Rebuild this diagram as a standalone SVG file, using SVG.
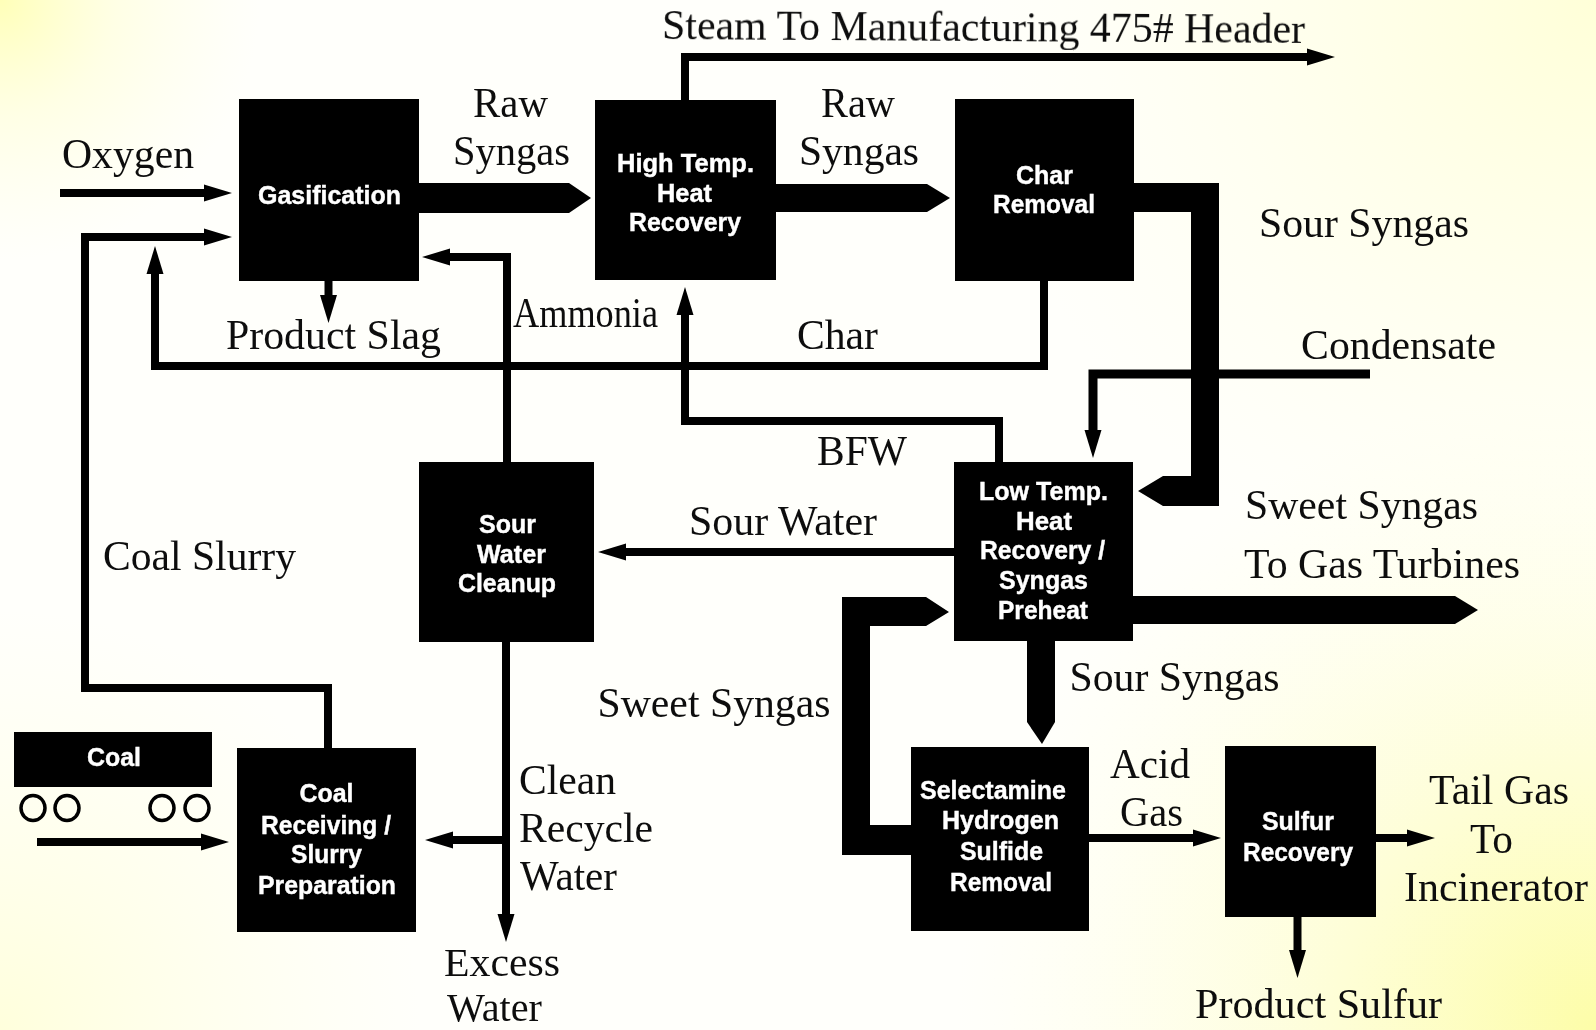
<svg xmlns="http://www.w3.org/2000/svg" width="1596" height="1030" viewBox="0 0 1596 1030">
<style>
.box{fill:#020202}
.n{font-family:"Liberation Sans",Arial,sans-serif;font-weight:700;font-size:25px;fill:#fff;stroke:#fff;stroke-width:.4}
.l{font-family:"Liberation Serif","Times New Roman",serif;font-size:42px;fill:#111}
.s{font-size:40px}
.c{fill:none;stroke:#050505;stroke-width:8;stroke-linejoin:miter;stroke-linecap:butt}
.t{fill:#050505;stroke:none}
.w{fill:none;stroke:#050505;stroke-width:3.5}
</style>
<defs>
<radialGradient id="tl" gradientUnits="userSpaceOnUse" cx="0" cy="0" r="260"><stop offset="0" stop-color="#ffffb8"/><stop offset=".45" stop-color="#ffffdc" stop-opacity=".7"/><stop offset="1" stop-color="#ffffe8" stop-opacity="0"/></radialGradient>
<radialGradient id="tr" gradientUnits="userSpaceOnUse" cx="1596" cy="0" r="620"><stop offset="0" stop-color="#ffffd8"/><stop offset="1" stop-color="#ffffe8" stop-opacity="0"/></radialGradient>
<radialGradient id="br" gradientUnits="userSpaceOnUse" cx="1596" cy="1030" r="640"><stop offset="0" stop-color="#fdfda8"/><stop offset=".5" stop-color="#fefed8" stop-opacity=".8"/><stop offset="1" stop-color="#ffffe8" stop-opacity="0"/></radialGradient>
<radialGradient id="bl" gradientUnits="userSpaceOnUse" cx="0" cy="1030" r="420"><stop offset="0" stop-color="#ffffdc"/><stop offset="1" stop-color="#ffffe8" stop-opacity="0"/></radialGradient>
<filter id="s" x="0" y="0" width="1" height="1"><feGaussianBlur stdDeviation=".55"/></filter>
<marker id="a" markerUnits="userSpaceOnUse" markerWidth="30" markerHeight="18" refX="0" refY="9" orient="auto" overflow="visible">
<path d="M0 .5L28 9L0 17.5Z" fill="#050505"/>
</marker>
</defs>
<rect width="1596" height="1030" fill="#fffffb"/>
<rect width="1596" height="1030" fill="url(#tr)"/>
<rect width="1596" height="1030" fill="url(#bl)"/>
<rect width="1596" height="1030" fill="url(#tl)"/>
<rect width="1596" height="1030" fill="url(#br)"/>
<g filter="url(#s)">
<g id="connectors">
<path class="c" d="M60 193H204" marker-end="url(#a)"/>
<path class="c" d="M328 748V688H85V237H204" marker-end="url(#a)"/>
<path class="c" d="M685 100V57H1307" marker-end="url(#a)"/>
<path class="c" d="M328.500 281V295" marker-end="url(#a)"/>
<path class="c" d="M507 462V257H450" marker-end="url(#a)"/>
<path class="c" d="M1044 281V366H155V274" marker-end="url(#a)"/>
<path class="c" d="M999 462V421H685V315" marker-end="url(#a)"/>
<path class="c" style="stroke-width:9" d="M1370 374H1093V430" marker-end="url(#a)"/>
<path class="c" d="M954 552H626" marker-end="url(#a)"/>
<path class="c" d="M506 642V914" marker-end="url(#a)"/>
<path class="c" d="M506 840H453" marker-end="url(#a)"/>
<path class="c" d="M37 842H201" marker-end="url(#a)"/>
<path class="c" d="M1089 838H1193" marker-end="url(#a)"/>
<path class="c" d="M1376 838H1407" marker-end="url(#a)"/>
<path class="c" d="M1297.500 917V950" marker-end="url(#a)"/>
<path class="t" d="M419 183H569L591 198L569 213H419Z"/>
<path class="t" d="M776 184H927L950 198L927 212H776Z"/>
<path class="t" d="M1133 183H1219V506H1163L1138 491L1163 476H1191V212H1133Z"/>
<path class="t" d="M1132 596H1455L1478 610L1455 624H1132Z"/>
<path class="t" d="M1027 641H1055V722L1042 744L1027 722Z"/>
<path class="t" d="M911 825H870V626H926L949 612L926 597H842V855H911Z"/>
</g>
<g id="gasification"><rect class="box" x="239" y="99" width="180" height="182"/>
<text class="n" x="258" y="204" textLength="143" lengthAdjust="spacingAndGlyphs">Gasification</text></g>
<g id="high-temp"><rect class="box" x="595" y="100" width="181" height="180"/>
<text class="n" x="617" y="172" textLength="137" lengthAdjust="spacingAndGlyphs">High Temp.</text>
<text class="n" x="657" y="202" textLength="55" lengthAdjust="spacingAndGlyphs">Heat</text>
<text class="n" x="629" y="231" textLength="112" lengthAdjust="spacingAndGlyphs">Recovery</text></g>
<g id="char-removal"><rect class="box" x="955" y="99" width="179" height="182"/>
<text class="n" x="1016" y="184" textLength="57" lengthAdjust="spacingAndGlyphs">Char</text>
<text class="n" x="993" y="213" textLength="102" lengthAdjust="spacingAndGlyphs">Removal</text></g>
<g id="sour-water-cleanup"><rect class="box" x="419" y="462" width="175" height="180"/>
<text class="n" x="479" y="533" textLength="57" lengthAdjust="spacingAndGlyphs">Sour</text>
<text class="n" x="477" y="563" textLength="69" lengthAdjust="spacingAndGlyphs">Water</text>
<text class="n" x="458" y="592" textLength="98" lengthAdjust="spacingAndGlyphs">Cleanup</text></g>
<g id="low-temp"><rect class="box" x="954" y="462" width="179" height="179"/>
<text class="n" x="979" y="500" textLength="129" lengthAdjust="spacingAndGlyphs">Low Temp.</text>
<text class="n" x="1016" y="530" textLength="56" lengthAdjust="spacingAndGlyphs">Heat</text>
<text class="n" x="980" y="559" textLength="125" lengthAdjust="spacingAndGlyphs">Recovery /</text>
<text class="n" x="999" y="589" textLength="89" lengthAdjust="spacingAndGlyphs">Syngas</text>
<text class="n" x="998" y="619" textLength="90" lengthAdjust="spacingAndGlyphs">Preheat</text></g>
<g id="selectamine"><rect class="box" x="911" y="747" width="178" height="184"/>
<text class="n" x="920" y="799" textLength="146" lengthAdjust="spacingAndGlyphs">Selectamine</text>
<text class="n" x="942" y="829" textLength="117" lengthAdjust="spacingAndGlyphs">Hydrogen</text>
<text class="n" x="960" y="860" textLength="83" lengthAdjust="spacingAndGlyphs">Sulfide</text>
<text class="n" x="950" y="891" textLength="102" lengthAdjust="spacingAndGlyphs">Removal</text></g>
<g id="sulfur-recovery"><rect class="box" x="1225" y="746" width="151" height="171"/>
<text class="n" x="1262" y="830" textLength="72" lengthAdjust="spacingAndGlyphs">Sulfur</text>
<text class="n" x="1243" y="861" textLength="110" lengthAdjust="spacingAndGlyphs">Recovery</text></g>
<g id="coal-receiving"><rect class="box" x="237" y="748" width="179" height="184"/>
<text class="n" x="299.500" y="802" textLength="54" lengthAdjust="spacingAndGlyphs">Coal</text>
<text class="n" x="261" y="834" textLength="130" lengthAdjust="spacingAndGlyphs">Receiving /</text>
<text class="n" x="291" y="863" textLength="71" lengthAdjust="spacingAndGlyphs">Slurry</text>
<text class="n" x="258" y="894" textLength="138" lengthAdjust="spacingAndGlyphs">Preparation</text></g>
<g id="coal-car"><rect class="box" x="14" y="732" width="198" height="55"/>
<text class="n" x="87" y="766" textLength="54" lengthAdjust="spacingAndGlyphs">Coal</text>
<ellipse class="w" cx="33" cy="808" rx="12" ry="12.500"/>
<ellipse class="w" cx="67" cy="808" rx="12" ry="12.500"/>
<ellipse class="w" cx="162" cy="808" rx="12" ry="12.500"/>
<ellipse class="w" cx="197" cy="808" rx="12" ry="12.500"/></g>
<g id="labels">
<text class="l" x="62" y="168" textLength="132" lengthAdjust="spacingAndGlyphs">Oxygen</text>
<text class="l" x="473" y="117" textLength="75" lengthAdjust="spacingAndGlyphs">Raw</text>
<text class="l" x="453" y="165" textLength="117" lengthAdjust="spacingAndGlyphs">Syngas</text>
<text class="l" x="662" y="39" textLength="643" lengthAdjust="spacingAndGlyphs" transform="rotate(.35 662 39)">Steam To Manufacturing 475# Header</text>
<text class="l" x="821" y="117" textLength="74" lengthAdjust="spacingAndGlyphs">Raw</text>
<text class="l" x="799" y="165" textLength="120" lengthAdjust="spacingAndGlyphs">Syngas</text>
<text class="l" x="1259" y="237" textLength="210" lengthAdjust="spacingAndGlyphs">Sour Syngas</text>
<text class="l" x="226" y="349" textLength="215" lengthAdjust="spacingAndGlyphs">Product Slag</text>
<text class="l" x="513" y="327" textLength="145" lengthAdjust="spacingAndGlyphs">Ammonia</text>
<text class="l" x="797" y="349" textLength="81" lengthAdjust="spacingAndGlyphs">Char</text>
<text class="l" x="1301" y="359" textLength="195" lengthAdjust="spacingAndGlyphs">Condensate</text>
<text class="l" x="817" y="465" textLength="90" lengthAdjust="spacingAndGlyphs">BFW</text>
<text class="l" x="1245" y="519" textLength="233" lengthAdjust="spacingAndGlyphs">Sweet Syngas</text>
<text class="l" x="1244" y="578" textLength="276" lengthAdjust="spacingAndGlyphs">To Gas Turbines</text>
<text class="l" x="689" y="535" textLength="188" lengthAdjust="spacingAndGlyphs">Sour Water</text>
<text class="l" x="103" y="570" textLength="193" lengthAdjust="spacingAndGlyphs">Coal Slurry</text>
<text class="l" x="597.500" y="717" textLength="233" lengthAdjust="spacingAndGlyphs">Sweet Syngas</text>
<text class="l" x="1069.500" y="691" textLength="210" lengthAdjust="spacingAndGlyphs">Sour Syngas</text>
<text class="l" x="1110" y="778" textLength="80" lengthAdjust="spacingAndGlyphs">Acid</text>
<text class="l" x="1120" y="826" textLength="63" lengthAdjust="spacingAndGlyphs">Gas</text>
<text class="l" x="1429" y="804" textLength="140" lengthAdjust="spacingAndGlyphs">Tail Gas</text>
<text class="l" x="1470" y="853" textLength="43" lengthAdjust="spacingAndGlyphs">To</text>
<text class="l" x="1404" y="901" textLength="184" lengthAdjust="spacingAndGlyphs">Incinerator</text>
<text class="l" x="1195" y="1018" textLength="247" lengthAdjust="spacingAndGlyphs">Product Sulfur</text>
<text class="l" x="519" y="794" textLength="97" lengthAdjust="spacingAndGlyphs">Clean</text>
<text class="l" x="519" y="842" textLength="134" lengthAdjust="spacingAndGlyphs">Recycle</text>
<text class="l" x="520" y="890" textLength="97" lengthAdjust="spacingAndGlyphs">Water</text>
<text class="l s" x="444" y="976" textLength="116" lengthAdjust="spacingAndGlyphs">Excess</text>
<text class="l s" x="447" y="1021" textLength="95" lengthAdjust="spacingAndGlyphs">Water</text>
</g>
</g>
</svg>
